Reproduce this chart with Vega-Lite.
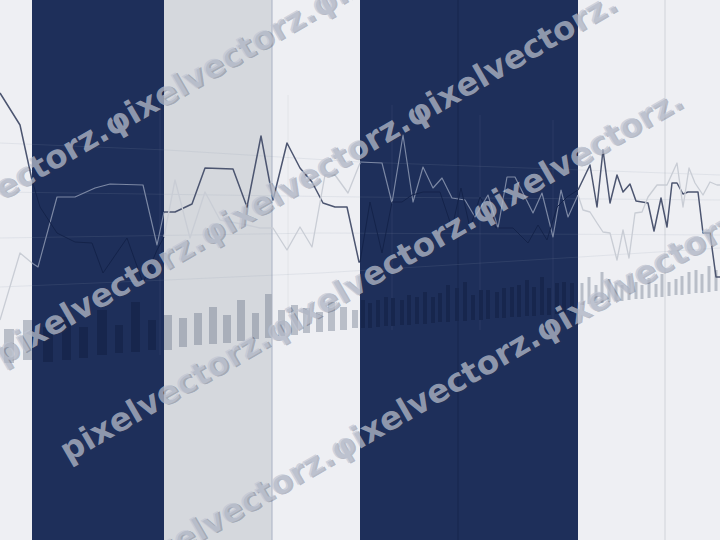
{
  "$schema": "https://vega.github.io/schema/vega-lite/v6.json",
  "width": 720,
  "height": 540,
  "autosize": {"type": "none"},
  "padding": 0,
  "background": "#eeeff3",
  "config": {"view": {"stroke": null}},
  "datasets": {
    "bands": [
      {"a": 0, "b": 32, "k": "pale"},
      {"a": 32, "b": 164, "k": "navy"},
      {"a": 164, "b": 272, "k": "mid"},
      {"a": 272, "b": 360, "k": "pale"},
      {"a": 360, "b": 578, "k": "navy"},
      {"a": 578, "b": 720, "k": "pale"}
    ],
    "rules": [
      {"x": 272, "y0": 0, "y1": 540, "k": "edge"},
      {"x": 458, "y0": 0, "y1": 540, "k": "deep"},
      {"x": 665, "y0": 0, "y1": 540, "k": "soft"},
      {"x": 288, "y0": 95, "y1": 310, "k": "faint"},
      {"x": 160, "y0": 95, "y1": 355, "k": "glint"},
      {"x": 392, "y0": 105, "y1": 330, "k": "glint"},
      {"x": 480, "y0": 115, "y1": 330, "k": "glint"},
      {"x": 553, "y0": 120, "y1": 330, "k": "glint"}
    ],
    "grid": [
      {"g": "g1", "x": 0, "y": 143}, {"g": "g1", "x": 167, "y": 150}, {"g": "g1", "x": 360, "y": 162}, {"g": "g1", "x": 720, "y": 175},
      {"g": "g2", "x": 0, "y": 192}, {"g": "g2", "x": 360, "y": 197}, {"g": "g2", "x": 720, "y": 200},
      {"g": "g3", "x": 0, "y": 238}, {"g": "g3", "x": 320, "y": 233}, {"g": "g3", "x": 720, "y": 235},
      {"g": "g4", "x": 0, "y": 287}, {"g": "g4", "x": 167, "y": 280}, {"g": "g4", "x": 320, "y": 273}, {"g": "g4", "x": 580, "y": 257}, {"g": "g4", "x": 720, "y": 248}
    ],
    "bars": [
      {"a": 4, "b": 14, "top": 329, "bot": 363, "t": "pale"},
      {"a": 23, "b": 32, "top": 320, "bot": 360, "t": "pale"},
      {"a": 43, "b": 53, "top": 327, "bot": 362, "t": "dusk"},
      {"a": 62, "b": 71, "top": 317, "bot": 360, "t": "dusk"},
      {"a": 79, "b": 88, "top": 327, "bot": 358, "t": "dusk"},
      {"a": 97, "b": 107, "top": 310, "bot": 355, "t": "dusk"},
      {"a": 115, "b": 123, "top": 325, "bot": 353, "t": "dusk"},
      {"a": 131, "b": 140, "top": 302, "bot": 352, "t": "dusk"},
      {"a": 148, "b": 156, "top": 320, "bot": 350, "t": "dusk"},
      {"a": 164, "b": 172, "top": 315, "bot": 350, "t": "steel"},
      {"a": 179, "b": 187, "top": 318, "bot": 347, "t": "steel"},
      {"a": 194, "b": 202, "top": 313, "bot": 345, "t": "steel"},
      {"a": 209, "b": 217, "top": 307, "bot": 344, "t": "steel"},
      {"a": 223, "b": 231, "top": 315, "bot": 343, "t": "steel"},
      {"a": 237, "b": 245, "top": 300, "bot": 341, "t": "steel"},
      {"a": 252, "b": 259, "top": 313, "bot": 339, "t": "steel"},
      {"a": 265, "b": 272, "top": 294, "bot": 338, "t": "steel"},
      {"a": 278, "b": 285, "top": 310, "bot": 336, "t": "pale"},
      {"a": 291, "b": 298, "top": 305, "bot": 335, "t": "pale"},
      {"a": 303, "b": 310, "top": 308, "bot": 333, "t": "pale"},
      {"a": 316, "b": 323, "top": 312, "bot": 332, "t": "pale"},
      {"a": 328, "b": 335, "top": 302, "bot": 331, "t": "pale"},
      {"a": 340, "b": 347, "top": 307, "bot": 330, "t": "pale"},
      {"a": 352, "b": 358, "top": 310, "bot": 328, "t": "pale"},
      {"a": 361, "b": 365, "top": 300, "bot": 328, "t": "dusk"},
      {"a": 368, "b": 372, "top": 303, "bot": 328, "t": "dusk"},
      {"a": 376, "b": 380, "top": 300, "bot": 327, "t": "dusk"},
      {"a": 384, "b": 388, "top": 297, "bot": 326, "t": "dusk"},
      {"a": 391, "b": 395, "top": 298, "bot": 326, "t": "dusk"},
      {"a": 400, "b": 404, "top": 300, "bot": 325, "t": "dusk"},
      {"a": 407, "b": 411, "top": 295, "bot": 325, "t": "dusk"},
      {"a": 415, "b": 419, "top": 297, "bot": 324, "t": "dusk"},
      {"a": 423, "b": 427, "top": 292, "bot": 324, "t": "dusk"},
      {"a": 431, "b": 435, "top": 297, "bot": 323, "t": "dusk"},
      {"a": 438, "b": 442, "top": 293, "bot": 322, "t": "dusk"},
      {"a": 446, "b": 450, "top": 285, "bot": 322, "t": "dusk"},
      {"a": 455, "b": 459, "top": 288, "bot": 321, "t": "dusk"},
      {"a": 463, "b": 467, "top": 282, "bot": 321, "t": "dusk"},
      {"a": 471, "b": 475, "top": 295, "bot": 320, "t": "dusk"},
      {"a": 479, "b": 483, "top": 290, "bot": 320, "t": "dusk"},
      {"a": 486, "b": 490, "top": 290, "bot": 319, "t": "dusk"},
      {"a": 495, "b": 499, "top": 292, "bot": 318, "t": "dusk"},
      {"a": 502, "b": 506, "top": 288, "bot": 318, "t": "dusk"},
      {"a": 510, "b": 514, "top": 287, "bot": 317, "t": "dusk"},
      {"a": 517, "b": 521, "top": 285, "bot": 317, "t": "dusk"},
      {"a": 525, "b": 529, "top": 280, "bot": 316, "t": "dusk"},
      {"a": 532, "b": 536, "top": 287, "bot": 316, "t": "dusk"},
      {"a": 540, "b": 544, "top": 277, "bot": 315, "t": "dusk"},
      {"a": 547, "b": 551, "top": 288, "bot": 315, "t": "dusk"},
      {"a": 555, "b": 559, "top": 283, "bot": 314, "t": "dusk"},
      {"a": 562, "b": 566, "top": 282, "bot": 313, "t": "dusk"},
      {"a": 570, "b": 574, "top": 283, "bot": 313, "t": "dusk"},
      {"a": 580.5, "b": 583.5, "top": 283, "bot": 305, "t": "pale"},
      {"a": 587.5, "b": 590.5, "top": 277, "bot": 304, "t": "pale"},
      {"a": 594.5, "b": 597.5, "top": 285, "bot": 303, "t": "pale"},
      {"a": 600.5, "b": 603.5, "top": 272, "bot": 303, "t": "pale"},
      {"a": 607.5, "b": 610.5, "top": 279, "bot": 302, "t": "pale"},
      {"a": 614.5, "b": 617.5, "top": 283, "bot": 301, "t": "pale"},
      {"a": 620.5, "b": 623.5, "top": 285, "bot": 301, "t": "pale"},
      {"a": 627.5, "b": 630.5, "top": 276, "bot": 300, "t": "pale"},
      {"a": 634.5, "b": 637.5, "top": 282, "bot": 299, "t": "pale"},
      {"a": 640.5, "b": 643.5, "top": 285, "bot": 299, "t": "pale"},
      {"a": 647.5, "b": 650.5, "top": 278, "bot": 298, "t": "pale"},
      {"a": 654.5, "b": 657.5, "top": 284, "bot": 297, "t": "pale"},
      {"a": 660.5, "b": 663.5, "top": 274, "bot": 297, "t": "pale"},
      {"a": 667.5, "b": 670.5, "top": 282, "bot": 296, "t": "pale"},
      {"a": 674.5, "b": 677.5, "top": 279, "bot": 295, "t": "pale"},
      {"a": 680.5, "b": 683.5, "top": 276, "bot": 295, "t": "pale"},
      {"a": 687.5, "b": 690.5, "top": 272, "bot": 294, "t": "pale"},
      {"a": 694.5, "b": 697.5, "top": 270, "bot": 293, "t": "pale"},
      {"a": 700.5, "b": 703.5, "top": 274, "bot": 293, "t": "pale"},
      {"a": 707.5, "b": 710.5, "top": 266, "bot": 292, "t": "pale"},
      {"a": 714.5, "b": 717.5, "top": 270, "bot": 291, "t": "pale"}
    ],
    "lines": [
      {"s": "s1", "t": "ink", "x": 0, "y": 93}, {"s": "s1", "t": "ink", "x": 20, "y": 125}, {"s": "s1", "t": "ink", "x": 32, "y": 180},
      {"s": "s2", "t": "mist", "x": 0, "y": 320}, {"s": "s2", "t": "mist", "x": 20, "y": 253}, {"s": "s2", "t": "mist", "x": 32, "y": 263},
      {"s": "s3", "t": "glow", "x": 32, "y": 263}, {"s": "s3", "t": "glow", "x": 38, "y": 267}, {"s": "s3", "t": "glow", "x": 57, "y": 197}, {"s": "s3", "t": "glow", "x": 75, "y": 197}, {"s": "s3", "t": "glow", "x": 95, "y": 188}, {"s": "s3", "t": "glow", "x": 110, "y": 184}, {"s": "s3", "t": "glow", "x": 143, "y": 185}, {"s": "s3", "t": "glow", "x": 157, "y": 245}, {"s": "s3", "t": "glow", "x": 164, "y": 212},
      {"s": "s4", "t": "shade", "x": 32, "y": 180}, {"s": "s4", "t": "shade", "x": 40, "y": 207}, {"s": "s4", "t": "shade", "x": 57, "y": 233}, {"s": "s4", "t": "shade", "x": 75, "y": 242}, {"s": "s4", "t": "shade", "x": 92, "y": 243}, {"s": "s4", "t": "shade", "x": 103, "y": 273}, {"s": "s4", "t": "shade", "x": 127, "y": 238}, {"s": "s4", "t": "shade", "x": 143, "y": 283}, {"s": "s4", "t": "shade", "x": 157, "y": 250}, {"s": "s4", "t": "shade", "x": 164, "y": 237},
      {"s": "s5", "t": "ink", "x": 164, "y": 212}, {"s": "s5", "t": "ink", "x": 175, "y": 212}, {"s": "s5", "t": "ink", "x": 192, "y": 204}, {"s": "s5", "t": "ink", "x": 205, "y": 168}, {"s": "s5", "t": "ink", "x": 233, "y": 169}, {"s": "s5", "t": "ink", "x": 247, "y": 207}, {"s": "s5", "t": "ink", "x": 261, "y": 136}, {"s": "s5", "t": "ink", "x": 273, "y": 200}, {"s": "s5", "t": "ink", "x": 287, "y": 143}, {"s": "s5", "t": "ink", "x": 300, "y": 168}, {"s": "s5", "t": "ink", "x": 312, "y": 182}, {"s": "s5", "t": "ink", "x": 323, "y": 203}, {"s": "s5", "t": "ink", "x": 335, "y": 207}, {"s": "s5", "t": "ink", "x": 347, "y": 207}, {"s": "s5", "t": "ink", "x": 359, "y": 262}, {"s": "s5", "t": "ink", "x": 360, "y": 262},
      {"s": "s6", "t": "mist", "x": 164, "y": 237}, {"s": "s6", "t": "mist", "x": 175, "y": 180}, {"s": "s6", "t": "mist", "x": 190, "y": 238}, {"s": "s6", "t": "mist", "x": 205, "y": 192}, {"s": "s6", "t": "mist", "x": 220, "y": 220}, {"s": "s6", "t": "mist", "x": 247, "y": 225}, {"s": "s6", "t": "mist", "x": 260, "y": 228}, {"s": "s6", "t": "mist", "x": 273, "y": 228}, {"s": "s6", "t": "mist", "x": 287, "y": 250}, {"s": "s6", "t": "mist", "x": 300, "y": 227}, {"s": "s6", "t": "mist", "x": 312, "y": 247}, {"s": "s6", "t": "mist", "x": 325, "y": 175}, {"s": "s6", "t": "mist", "x": 335, "y": 175}, {"s": "s6", "t": "mist", "x": 348, "y": 193}, {"s": "s6", "t": "mist", "x": 360, "y": 163},
      {"s": "s7", "t": "glow", "x": 360, "y": 162}, {"s": "s7", "t": "glow", "x": 382, "y": 163}, {"s": "s7", "t": "glow", "x": 392, "y": 203}, {"s": "s7", "t": "glow", "x": 403, "y": 135}, {"s": "s7", "t": "glow", "x": 413, "y": 202}, {"s": "s7", "t": "glow", "x": 423, "y": 167}, {"s": "s7", "t": "glow", "x": 433, "y": 188}, {"s": "s7", "t": "glow", "x": 442, "y": 178}, {"s": "s7", "t": "glow", "x": 452, "y": 198}, {"s": "s7", "t": "glow", "x": 465, "y": 200}, {"s": "s7", "t": "glow", "x": 475, "y": 217}, {"s": "s7", "t": "glow", "x": 488, "y": 195}, {"s": "s7", "t": "glow", "x": 498, "y": 228}, {"s": "s7", "t": "glow", "x": 507, "y": 177}, {"s": "s7", "t": "glow", "x": 515, "y": 177}, {"s": "s7", "t": "glow", "x": 523, "y": 193}, {"s": "s7", "t": "glow", "x": 533, "y": 213}, {"s": "s7", "t": "glow", "x": 542, "y": 193}, {"s": "s7", "t": "glow", "x": 553, "y": 237}, {"s": "s7", "t": "glow", "x": 561, "y": 190}, {"s": "s7", "t": "glow", "x": 568, "y": 217}, {"s": "s7", "t": "glow", "x": 578, "y": 195},
      {"s": "s8", "t": "shade", "x": 360, "y": 262}, {"s": "s8", "t": "shade", "x": 370, "y": 202}, {"s": "s8", "t": "shade", "x": 382, "y": 253}, {"s": "s8", "t": "shade", "x": 392, "y": 202}, {"s": "s8", "t": "shade", "x": 402, "y": 202}, {"s": "s8", "t": "shade", "x": 412, "y": 195}, {"s": "s8", "t": "shade", "x": 423, "y": 192}, {"s": "s8", "t": "shade", "x": 440, "y": 192}, {"s": "s8", "t": "shade", "x": 452, "y": 228}, {"s": "s8", "t": "shade", "x": 461, "y": 188}, {"s": "s8", "t": "shade", "x": 470, "y": 228}, {"s": "s8", "t": "shade", "x": 480, "y": 197}, {"s": "s8", "t": "shade", "x": 490, "y": 215}, {"s": "s8", "t": "shade", "x": 496, "y": 228}, {"s": "s8", "t": "shade", "x": 513, "y": 228}, {"s": "s8", "t": "shade", "x": 528, "y": 243}, {"s": "s8", "t": "shade", "x": 538, "y": 225}, {"s": "s8", "t": "shade", "x": 547, "y": 240}, {"s": "s8", "t": "shade", "x": 557, "y": 207}, {"s": "s8", "t": "shade", "x": 567, "y": 197}, {"s": "s8", "t": "shade", "x": 578, "y": 190},
      {"s": "s9", "t": "ink", "x": 578, "y": 190}, {"s": "s9", "t": "ink", "x": 590, "y": 165}, {"s": "s9", "t": "ink", "x": 597, "y": 207}, {"s": "s9", "t": "ink", "x": 603, "y": 150}, {"s": "s9", "t": "ink", "x": 610, "y": 203}, {"s": "s9", "t": "ink", "x": 617, "y": 175}, {"s": "s9", "t": "ink", "x": 623, "y": 192}, {"s": "s9", "t": "ink", "x": 630, "y": 184}, {"s": "s9", "t": "ink", "x": 636, "y": 201}, {"s": "s9", "t": "ink", "x": 648, "y": 203}, {"s": "s9", "t": "ink", "x": 654, "y": 231}, {"s": "s9", "t": "ink", "x": 661, "y": 198}, {"s": "s9", "t": "ink", "x": 667, "y": 227}, {"s": "s9", "t": "ink", "x": 672, "y": 183}, {"s": "s9", "t": "ink", "x": 677, "y": 183}, {"s": "s9", "t": "ink", "x": 683, "y": 194}, {"s": "s9", "t": "ink", "x": 688, "y": 192}, {"s": "s9", "t": "ink", "x": 698, "y": 192}, {"s": "s9", "t": "ink", "x": 703, "y": 233}, {"s": "s9", "t": "ink", "x": 710, "y": 233}, {"s": "s9", "t": "ink", "x": 716, "y": 277}, {"s": "s9", "t": "ink", "x": 720, "y": 277},
      {"s": "s10", "t": "mist", "x": 578, "y": 195}, {"s": "s10", "t": "mist", "x": 583, "y": 210}, {"s": "s10", "t": "mist", "x": 590, "y": 212}, {"s": "s10", "t": "mist", "x": 597, "y": 223}, {"s": "s10", "t": "mist", "x": 603, "y": 232}, {"s": "s10", "t": "mist", "x": 610, "y": 233}, {"s": "s10", "t": "mist", "x": 617, "y": 260}, {"s": "s10", "t": "mist", "x": 623, "y": 230}, {"s": "s10", "t": "mist", "x": 629, "y": 258}, {"s": "s10", "t": "mist", "x": 635, "y": 213}, {"s": "s10", "t": "mist", "x": 642, "y": 212}, {"s": "s10", "t": "mist", "x": 648, "y": 197}, {"s": "s10", "t": "mist", "x": 657, "y": 185}, {"s": "s10", "t": "mist", "x": 667, "y": 185}, {"s": "s10", "t": "mist", "x": 677, "y": 163}, {"s": "s10", "t": "mist", "x": 683, "y": 207}, {"s": "s10", "t": "mist", "x": 689, "y": 168}, {"s": "s10", "t": "mist", "x": 695, "y": 183}, {"s": "s10", "t": "mist", "x": 703, "y": 195}, {"s": "s10", "t": "mist", "x": 710, "y": 182}, {"s": "s10", "t": "mist", "x": 717, "y": 185}, {"s": "s10", "t": "mist", "x": 720, "y": 185}
    ],
    "marks": [
      {"x": -98, "y": 247, "w": "pixelvectorz.φixelvectorz.φixelvectorz."},
      {"x": -3, "y": 357, "w": "pixelvectorz.φixelvectorz.φixelvectorz."},
      {"x": 63, "y": 454, "w": "pixelvectorz.φixelvectorz.φixelvectorz."},
      {"x": 127, "y": 572, "w": "pixelvectorz.φixelvectorz.φixelvectorz."}
    ]
  },
  "layer": [
    {
      "data": {"name": "bands"},
      "mark": {"type": "rect", "clip": true},
      "encoding": {
        "x": {"field": "a", "type": "quantitative", "scale": {"domain": [0, 720], "nice": false, "zero": false}, "axis": null},
        "x2": {"field": "b"},
        "y": {"datum": 0, "type": "quantitative", "scale": {"domain": [0, 540], "nice": false, "zero": false, "reverse": true}, "axis": null},
        "y2": {"datum": 540},
        "color": {"field": "k", "type": "nominal", "legend": null, "scale": {"domain": ["pale", "navy", "mid"], "range": ["#eeeff3", "#1e2f5a", "#d5d8dd"]}}
      }
    },
    {
      "data": {"name": "rules"},
      "mark": {"type": "rule", "strokeWidth": 1, "clip": true},
      "encoding": {
        "x": {"field": "x", "type": "quantitative", "scale": {"domain": [0, 720], "nice": false, "zero": false}, "axis": null},
        "y": {"field": "y0", "type": "quantitative", "scale": {"domain": [0, 540], "nice": false, "zero": false, "reverse": true}, "axis": null},
        "y2": {"field": "y1"},
        "color": {"field": "k", "type": "nominal", "legend": null, "scale": {"domain": ["edge", "deep", "soft", "faint", "glint"], "range": ["#a9b2c4", "#17264c", "#d0d3d9", "#e2e4e8", "#2a3a64"]}}
      }
    },
    {
      "data": {"name": "grid"},
      "mark": {"type": "line", "strokeWidth": 1, "color": "#8f9ab0", "opacity": 0.15, "clip": true},
      "encoding": {
        "x": {"field": "x", "type": "quantitative", "scale": {"domain": [0, 720], "nice": false, "zero": false}, "axis": null},
        "y": {"field": "y", "type": "quantitative", "scale": {"domain": [0, 540], "nice": false, "zero": false, "reverse": true}, "axis": null},
        "detail": {"field": "g", "type": "nominal"}
      }
    },
    {
      "data": {"name": "bars"},
      "mark": {"type": "rect", "clip": true},
      "encoding": {
        "x": {"field": "a", "type": "quantitative", "scale": {"domain": [0, 720], "nice": false, "zero": false}, "axis": null},
        "x2": {"field": "b"},
        "y": {"field": "top", "type": "quantitative", "scale": {"domain": [0, 540], "nice": false, "zero": false, "reverse": true}, "axis": null},
        "y2": {"field": "bot"},
        "color": {"field": "t", "type": "nominal", "legend": null, "scale": {"domain": ["pale", "dusk", "steel"], "range": ["#b9bec8", "#17264d", "#a9afba"]}}
      }
    },
    {
      "data": {"name": "lines"},
      "mark": {"type": "line", "clip": true, "strokeJoin": "round"},
      "encoding": {
        "x": {"field": "x", "type": "quantitative", "scale": {"domain": [0, 720], "nice": false, "zero": false}, "axis": null},
        "y": {"field": "y", "type": "quantitative", "scale": {"domain": [0, 540], "nice": false, "zero": false, "reverse": true}, "axis": null},
        "detail": {"field": "s", "type": "nominal"},
        "color": {"field": "t", "type": "nominal", "legend": null, "scale": {"domain": ["ink", "mist", "glow", "shade"], "range": ["#4c5570", "#c9cdd5", "#7c88a4", "#14234a"]}},
        "strokeWidth": {"field": "t", "type": "nominal", "legend": null, "scale": {"domain": ["ink", "mist", "glow", "shade"], "range": [1.5, 1, 1.2, 1.2]}}
      }
    },
    {
      "data": {"name": "marks"},
      "mark": {"type": "text", "angle": 330, "align": "left", "baseline": "middle", "font": "DejaVu Sans", "fontWeight": "bold", "fontSize": 32.5, "fill": "#2b3550", "fillOpacity": 0.3, "dx": 1.5, "dy": 1.5},
      "encoding": {
        "x": {"field": "x", "type": "quantitative", "scale": {"domain": [0, 720], "nice": false, "zero": false}, "axis": null},
        "y": {"field": "y", "type": "quantitative", "scale": {"domain": [0, 540], "nice": false, "zero": false, "reverse": true}, "axis": null},
        "text": {"field": "w"}
      }
    },
    {
      "data": {"name": "marks"},
      "mark": {"type": "text", "angle": 330, "align": "left", "baseline": "middle", "font": "DejaVu Sans", "fontWeight": "bold", "fontSize": 32.5, "fill": "#c0c6d4", "fillOpacity": 0.7},
      "encoding": {
        "x": {"field": "x", "type": "quantitative", "scale": {"domain": [0, 720], "nice": false, "zero": false}, "axis": null},
        "y": {"field": "y", "type": "quantitative", "scale": {"domain": [0, 540], "nice": false, "zero": false, "reverse": true}, "axis": null},
        "text": {"field": "w"}
      }
    }
  ],
  "resolve": {"scale": {"color": "independent", "strokeWidth": "independent"}}
}
